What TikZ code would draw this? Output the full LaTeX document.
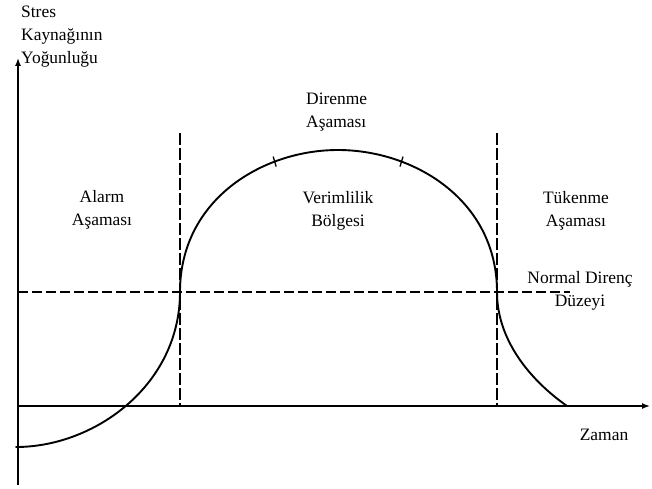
\documentclass[tikz,border=0pt]{standalone}
\usepackage{fontspec}
\setmainfont{Liberation Serif}
\usetikzlibrary{arrows.meta}
\begin{document}
\begin{tikzpicture}[x=1bp,y=-1bp,
  lbl/.style={inner sep=0pt, font=\fontsize{17.5}{23}\selectfont, align=center},
  axis/.style={line width=1.4bp, -{Latex[length=8bp,width=6bp]}},
  guide/.style={line width=1.1bp, dash pattern=on 10bp off 4bp},
  curve/.style={line width=1.9bp, line cap=round},
  tickmark/.style={line width=1.3bp}]
\useasboundingbox (0,0) rectangle (652,489);
% axes
\coordinate (o) at (18,406);
\coordinate (ybot) at (18,485);
\coordinate (ytop) at (18,58);
\coordinate (xend) at (650,406);
\draw[axis] (ybot) -- (ytop);
\draw[axis] (o) -- (xend);
% guides
\coordinate (hl) at (18,292);
\coordinate (hr) at (570,292);
\coordinate (v1t) at (180,133);
\coordinate (v1b) at (180,406);
\coordinate (v2t) at (497,133);
\coordinate (v2b) at (497,406);
\draw[guide] (hl) -- (hr);
\draw[guide, dash pattern=on 12bp off 3bp] (v1t) -- (v1b);
\draw[guide, dash pattern=on 12bp off 3bp] (v2t) -- (v2b);
% curve
\coordinate (c0) at (16,447);
\coordinate (c1) at (180,292);
\coordinate (c2) at (338,150);
\coordinate (c3) at (497,292);
\coordinate (c4) at (567,406);
\draw[curve] (c0) .. controls (95,447) and (180,385) .. (c1)
  .. controls (180,200) and (262,150) .. (c2) coordinate[pos=0.72] (tk1)
  .. controls (414,150) and (497,200) .. (c3) coordinate[pos=0.28] (tk2)
  .. controls (497,340) and (530,380) .. (c4);
\draw[tickmark] ([shift={(-1.5,-5)}]tk1) -- ([shift={(1.5,5)}]tk1);
\draw[tickmark] ([shift={(1.5,-5)}]tk2) -- ([shift={(-1.5,5)}]tk2);
% labels
\node[lbl, align=left, anchor=west] (ylab) at (21,37) {Stres\\Kaynağının\\Yoğunluğu};
\node[lbl, align=left, anchor=west] (dir) at (306,112) {Direnme\\Aşaması};
\node[lbl] (alarm) at (102,210) {Alarm\\Aşaması};
\node[lbl] (verim) at (338,211) {Verimlilik\\Bölgesi};
\node[lbl] (tuk) at (576,211) {Tükenme\\Aşaması};
\node[lbl] (normal) at (580,291) {Normal Direnç\\Düzeyi};
\node[lbl] (zaman) at (604,435) {Zaman};
\end{tikzpicture}
\end{document}
